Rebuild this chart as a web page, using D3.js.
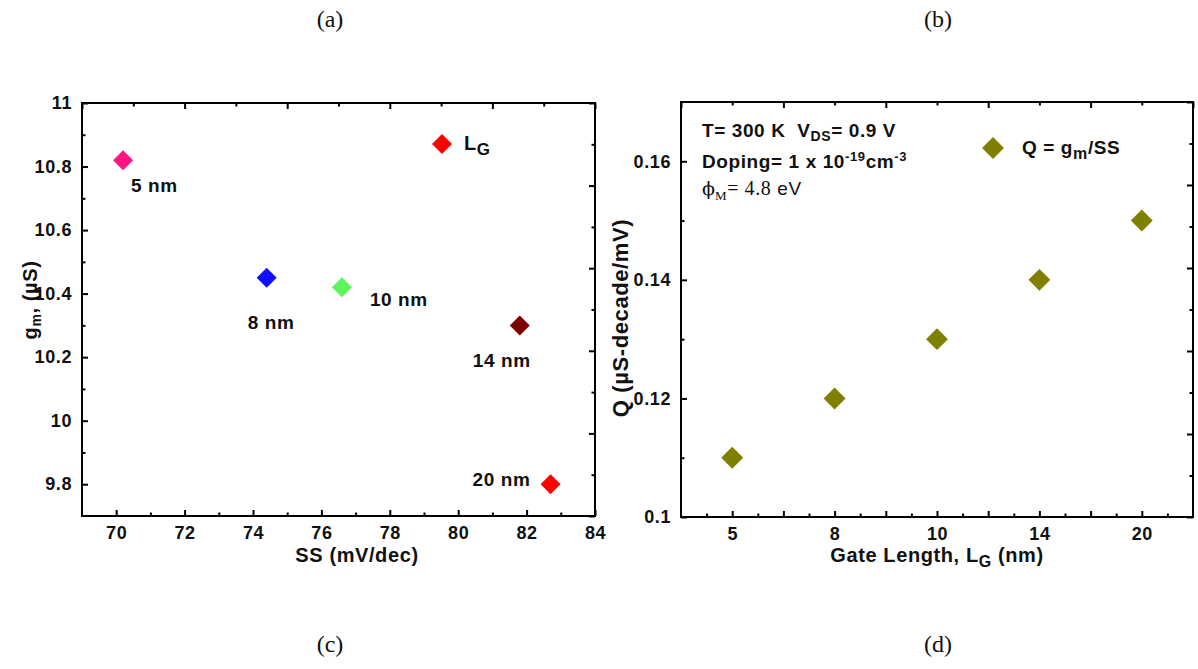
<!DOCTYPE html>
<html>
<head>
<meta charset="utf-8">
<script src="https://cdn.jsdelivr.net/npm/d3@7"></script>
<style>
  body { margin: 0; background: #fff; }
  svg text { font-family: "Liberation Sans", Arial, sans-serif; font-weight: bold; fill: #111; white-space: pre; letter-spacing: 0.6px; }
</style>
</head>
<body>
<svg id="fig" width="1198" height="669"></svg>
<script>
// panel (a)/(c): gm against SS, one point per gate length
const gateLengths = [5, 8, 10, 14, 20];
const ssValues = [70.2, 74.4, 76.6, 81.8, 82.7];
const gmValues = [10.82, 10.45, 10.42, 10.30, 9.80];
const pointColors = ["#ff1482", "#1010ff", "#5cf55c", "#800000", "#ff0000"];

// panel (b)/(d): Q = gm/SS against gate length
const qValues = [0.11, 0.12, 0.13, 0.14, 0.15];

const ssTicks = [70, 72, 74, 76, 78, 80, 82, 84];
const gmTicks = [9.8, 10, 10.2, 10.4, 10.6, 10.8, 11];
const qTicks = [0.1, 0.12, 0.14, 0.16];

// label offsets (px) of the "x nm" notes next to each point
const noteOffsets = [[8, 32], [-19, 51], [28, 19], [-47, 42], [-78, 2]];

const svg = d3.select("#fig");

// rich text: parts = [text, shift(px), size, extra style]
function rich(sel, parts) {
  let prev = 0;
  parts.forEach(([t, shift, size, style]) => {
    const ts = sel.append("tspan").text(t).attr("dy", shift - prev).style("font-size", size + "px");
    if (style) Object.entries(style).forEach(([k, v]) => ts.style(k, v));
    prev = shift;
  });
  return sel;
}

function tickAxis(g, axis, values, size, transform, fmt) {
  const a = g.append("g").attr("transform", transform)
    .call(axis.tickValues(values).tickSizeInner(-size).tickSizeOuter(0).tickPadding(10)
      .tickFormat(fmt || (() => "")));
  a.select(".domain").remove();
  a.selectAll("line").attr("stroke", "#000").attr("stroke-width", 2);
  a.selectAll("text").style("font-size", "18px");
  return a;
}

function frame(g, x, y) {
  const [x0, x1] = x.range(), [y0, y1] = y.range();
  g.append("rect").attr("x", x0).attr("y", y1).attr("width", x1 - x0).attr("height", y0 - y1)
    .attr("fill", "none").attr("stroke", "#000").attr("stroke-width", 2);
  // mirror ticks on top and right, 10 intervals, even ones long
  const mx = d3.scaleLinear().domain([0, 10]).range(x.range());
  const my = d3.scaleLinear().domain([0, 10]).range(y.range());
  const even = d3.range(0, 11, 2), odd = d3.range(1, 10, 2);
  tickAxis(g, d3.axisTop(mx), even, 6, `translate(0,${y1})`);
  tickAxis(g, d3.axisTop(mx), odd, 3.5, `translate(0,${y1})`);
  tickAxis(g, d3.axisRight(my), even, 6, `translate(${x1},0)`);
  tickAxis(g, d3.axisRight(my), odd, 3.5, `translate(${x1},0)`);
}

const diamond = s => d3.symbol(d3.symbolSquare, s)();
const mid = arr => d3.pairs(arr, (a, b) => (a + b) / 2);

// ---------- left panel ----------
const gL = svg.append("g");
const xL = d3.scaleLinear().domain([69, 84]).range([82, 595]);
const yL = d3.scaleLinear().domain([9.7, 11]).range([516, 103]);

tickAxis(gL, d3.axisBottom(xL), ssTicks, 6, `translate(0,${yL.range()[0]})`, d3.format("d"));
tickAxis(gL, d3.axisBottom(xL), mid(ssTicks), 3.5, `translate(0,${yL.range()[0]})`);
tickAxis(gL, d3.axisLeft(yL), gmTicks, 6, `translate(${xL.range()[0]},0)`, d => String(+d.toFixed(1)));
tickAxis(gL, d3.axisLeft(yL), mid(gmTicks), 3.5, `translate(${xL.range()[0]},0)`);
frame(gL, xL, yL);

gL.selectAll("path.pt").data(gateLengths).join("path")
  .attr("class", "pt")
  .attr("d", diamond(200))
  .attr("fill", (d, i) => pointColors[i])
  .attr("transform", (d, i) => `translate(${xL(ssValues[i])},${yL(gmValues[i])}) rotate(45)`);

gL.selectAll("text.note").data(gateLengths).join("text")
  .attr("class", "note")
  .attr("x", (d, i) => xL(ssValues[i]) + noteOffsets[i][0])
  .attr("y", (d, i) => yL(gmValues[i]) + noteOffsets[i][1])
  .style("font-size", "19px")
  .text(d => d + " nm");

// legend
gL.append("path").attr("d", diamond(200)).attr("fill", "#ff0000")
  .attr("transform", "translate(442,144) rotate(45)");
rich(gL.append("text").attr("x", 464).attr("y", 150), [["L", 0, 20], ["G", 5, 17]]);

gL.append("text").attr("x", 357).attr("y", 562).attr("text-anchor", "middle")
  .style("font-size", "20px").text("SS (mV/dec)");
rich(gL.append("text").attr("transform", "translate(37,300) rotate(-90)").attr("text-anchor", "middle"),
  [["g", 0, 20], ["m", 4, 14], [", (\u00b5S)", 0, 20]]);

// ---------- right panel ----------
const gR = svg.append("g");
const xR = d3.scaleLinear().domain([-0.5, gateLengths.length - 0.5]).range([681, 1193]);
const yR = d3.scaleLinear().domain([0.1, 0.17]).range([517, 102]);

const catMajor = d3.range(0, gateLengths.length - 0.9, 0.5);
const catMinor = d3.range(-0.25, gateLengths.length - 0.5, 0.5);
tickAxis(gR, d3.axisBottom(xR), catMajor, 6, `translate(0,${yR.range()[0]})`,
  d => Number.isInteger(d) ? gateLengths[d] : "");
tickAxis(gR, d3.axisBottom(xR), catMinor, 3.5, `translate(0,${yR.range()[0]})`);
tickAxis(gR, d3.axisLeft(yR), qTicks, 6, `translate(${xR.range()[0]},0)`, d => String(+d.toFixed(2)));
tickAxis(gR, d3.axisLeft(yR), mid(qTicks), 3.5, `translate(${xR.range()[0]},0)`);
frame(gR, xR, yR);

gR.selectAll("path.pt").data(qValues).join("path")
  .attr("class", "pt")
  .attr("d", diamond(240))
  .attr("fill", "#808000")
  .attr("transform", (d, i) => `translate(${xR(i)},${yR(d)}) rotate(45)`);

// legend
gR.append("path").attr("d", diamond(240)).attr("fill", "#808000")
  .attr("transform", "translate(993,148) rotate(45)");
rich(gR.append("text").attr("x", 1022).attr("y", 154), [["Q = g", 0, 19], ["m", 5, 16], ["/SS", 0, 19]]);

// conditions
rich(gR.append("text").attr("x", 702).attr("y", 137),
  [["T= 300 K  V", 0, 19], ["DS", 4, 14], ["= 0.9 V", 0, 19]]);
rich(gR.append("text").attr("x", 702).attr("y", 168),
  [["Doping= 1 x 10", 0, 19], ["-19", -7, 13], ["cm", 0, 19], ["-3", -7, 13]]);
const serif = { "font-family": "'DejaVu Serif', 'Liberation Serif', serif", "letter-spacing": "0px" };
rich(gR.append("text").attr("x", 702).attr("y", 195).style("font-weight", "normal"),
  [["\u03d5", 0, 19, serif],
   ["M", 5, 13, { "font-family": "'Liberation Serif', serif" }],
   ["= 4.8", 0, 20, { "font-family": "'Liberation Serif', serif" }],
   [" eV", 0, 19]]);

rich(gR.append("text").attr("x", 937).attr("y", 562).attr("text-anchor", "middle"),
  [["Gate Length, L", 0, 20], ["G", 5, 16], [" (nm)", 0, 20]]);
gR.append("text").attr("transform", "translate(628,318) rotate(-90)").attr("text-anchor", "middle")
  .style("font-size", "22px").text("Q (\u00b5S-decade/mV)");

// panel letters
[["(a)", 330, 27], ["(b)", 938, 27], ["(c)", 330, 652], ["(d)", 938, 652]].forEach(([t, x, y]) =>
  svg.append("text").attr("x", x).attr("y", y).attr("text-anchor", "middle")
    .style("font-family", "'Liberation Serif', 'Times New Roman', serif").style("font-weight", "normal")
    .style("letter-spacing", "0px").style("font-size", "24px").text(t));
</script>
</body>
</html>
